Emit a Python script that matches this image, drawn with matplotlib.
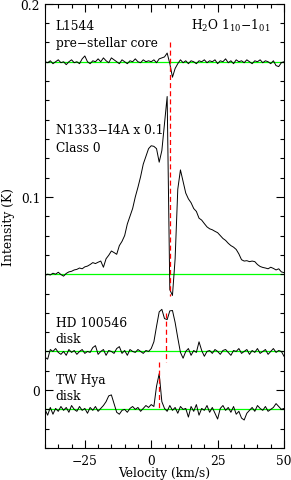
import numpy as np
import matplotlib
matplotlib.use('Agg')
import matplotlib.pyplot as plt
from matplotlib.ticker import MultipleLocator

plt.rcParams['font.family'] = 'DejaVu Serif'
plt.rcParams['mathtext.fontset'] = 'dejavuserif'
plt.rcParams['font.size'] = 8.8

# velocity channels (km/s)
velocity = np.arange(-40, 51, 1)

l1544 = [
    0.1700, 0.1695, 0.1705, 0.1690, 0.1700, 0.1710, 0.1695, 0.1700, 0.1685, 0.1700,
    0.1710, 0.1695, 0.1700, 0.1690, 0.1715, 0.1730, 0.1700, 0.1690, 0.1705, 0.1700,
    0.1715, 0.1700, 0.1720, 0.1705, 0.1695, 0.1720, 0.1710, 0.1700, 0.1690, 0.1710,
    0.1700, 0.1690, 0.1705, 0.1700, 0.1715, 0.1700, 0.1695, 0.1710, 0.1700, 0.1705,
    0.1700, 0.1710, 0.1695, 0.1715, 0.1720, 0.1725, 0.1745, 0.1690, 0.1620, 0.1665,
    0.1690, 0.1710, 0.1695, 0.1705, 0.1690, 0.1705, 0.1700, 0.1690, 0.1705, 0.1700,
    0.1710, 0.1695, 0.1705, 0.1700, 0.1710, 0.1690, 0.1705, 0.1700, 0.1715, 0.1695,
    0.1705, 0.1690, 0.1710, 0.1700, 0.1705, 0.1695, 0.1710, 0.1700, 0.1690, 0.1705,
    0.1700, 0.1710, 0.1695, 0.1705, 0.1700, 0.1690, 0.1705, 0.1680, 0.1675, 0.1695,
    0.1700,
]

n1333 = [
    0.0594, 0.0600, 0.0596, 0.0605, 0.0600, 0.0610, 0.0598, 0.0590, 0.0604, 0.0612,
    0.0615, 0.0622, 0.0625, 0.0632, 0.0628, 0.0638, 0.0642, 0.0650, 0.0660, 0.0655,
    0.0662, 0.0668, 0.0636, 0.0680, 0.0698, 0.0720, 0.0712, 0.0703, 0.0748, 0.0770,
    0.0800, 0.0860, 0.0900, 0.0940, 0.1000, 0.1050, 0.1105, 0.1170, 0.1210, 0.1250,
    0.1265, 0.1262, 0.1250, 0.1180, 0.1240, 0.1380, 0.1520, 0.0520, 0.0490, 0.0680,
    0.1040, 0.1140, 0.1080, 0.1020, 0.0990, 0.0970, 0.0940, 0.0925, 0.0890, 0.0880,
    0.0862, 0.0845, 0.0835, 0.0830, 0.0822, 0.0815, 0.0800, 0.0785, 0.0775, 0.0760,
    0.0748, 0.0740, 0.0728, 0.0705, 0.0675, 0.0668, 0.0670, 0.0665, 0.0668, 0.0665,
    0.0650, 0.0640, 0.0635, 0.0632, 0.0628, 0.0636, 0.0630, 0.0622, 0.0628, 0.0612,
    0.0608,
]

hd100546 = [
    0.0170, 0.0160, 0.0210, 0.0200, 0.0215, 0.0195, 0.0185, 0.0200, 0.0180, 0.0210,
    0.0195, 0.0205, 0.0185, 0.0200, 0.0210, 0.0190, 0.0200, 0.0195, 0.0220, 0.0230,
    0.0185, 0.0200, 0.0210, 0.0180, 0.0205, 0.0200, 0.0190, 0.0215, 0.0225, 0.0190,
    0.0205, 0.0180, 0.0210, 0.0200, 0.0195, 0.0210, 0.0200, 0.0190, 0.0205, 0.0200,
    0.0215, 0.0250, 0.0330, 0.0405, 0.0418, 0.0370, 0.0365, 0.0410, 0.0412, 0.0350,
    0.0270, 0.0195, 0.0165, 0.0200, 0.0215, 0.0180, 0.0205, 0.0195, 0.0250, 0.0205,
    0.0175, 0.0200, 0.0205, 0.0190, 0.0210, 0.0200, 0.0185, 0.0205, 0.0210, 0.0195,
    0.0180, 0.0205, 0.0200, 0.0215, 0.0190, 0.0200, 0.0210, 0.0185, 0.0205, 0.0195,
    0.0215, 0.0190, 0.0200, 0.0210, 0.0185, 0.0200, 0.0215, 0.0195, 0.0205, 0.0200,
    0.0175,
]

twhya = [
    -0.0100, -0.0130, -0.0090, -0.0125, -0.0095, -0.0110, -0.0085, -0.0105, -0.0090, -0.0115,
    -0.0080, -0.0100, -0.0110, -0.0085, -0.0105, -0.0095, -0.0120, -0.0090, -0.0105, -0.0085,
    -0.0110, -0.0095, -0.0080, -0.0060, -0.0030, -0.0025, -0.0070, -0.0115, -0.0125, -0.0105,
    -0.0100, -0.0115, -0.0095, -0.0085, -0.0100, -0.0090, -0.0110, -0.0095, -0.0080, -0.0090,
    -0.0075, -0.0085, 0.0020, 0.0085, -0.0060, -0.0095, -0.0110, -0.0080, -0.0105, -0.0090,
    -0.0120, -0.0085, -0.0100, -0.0095, -0.0140, -0.0085, -0.0110, -0.0075, -0.0130, -0.0095,
    -0.0105, -0.0080, -0.0115, -0.0090, -0.0120, -0.0150, -0.0095, -0.0080, -0.0105, -0.0090,
    -0.0115, -0.0085, -0.0125, -0.0110, -0.0145, -0.0155, -0.0120, -0.0105, -0.0090, -0.0110,
    -0.0080, -0.0095, -0.0105, -0.0085, -0.0110, -0.0100, -0.0090, -0.0070, -0.0085, -0.0100,
    -0.0095,
]

spectra = [l1544, n1333, hd100546, twhya]
baselines = [0.170, 0.060, 0.020, -0.010]

# red dashed source velocity markers: (velocity, y from, y to)
vlsr_marks = [(7.0, 0.180, 0.0487), (5.6, 0.040, 0.0143), (3.0, 0.0147, -0.0105)]

labels = [
    (-36, 0.189, 'L1544'),
    (-36, 0.180, 'pre\u2212stellar core'),
    (-36, 0.135, 'N1333\u2212I4A x 0.1'),
    (-36, 0.1255, 'Class 0'),
    (-36, 0.0352, 'HD 100546'),
    (-36, 0.0266, 'disk'),
    (-36, 0.0055, 'TW Hya'),
    (-36, -0.003, 'disk'),
]

fig = plt.figure(figsize=(2.91, 4.81), dpi=100)
ax = fig.add_axes([0.1546, 0.0665, 0.8214, 0.9235])

for base in baselines:
    ax.axhline(base, color='#00ff00', lw=0.9, zorder=1)

for spec in spectra:
    ax.plot(velocity, spec, color='black', lw=0.7, zorder=2)

for v, y0, y1 in vlsr_marks:
    ax.plot([v, v], [y0, y1], color='red', lw=0.9, ls=(0, (4, 2.5)), zorder=3)

for x, y, s in labels:
    ax.text(x, y, s, ha='left', va='center')
ax.text(45, 0.189, 'H$_2$O 1$_{10}$$-$1$_{01}$', ha='right', va='center')

ax.set_xlim(-40, 50)
ax.set_ylim(-0.03, 0.2)
ax.set_xticks([-25, 0, 25, 50])
ax.set_xticklabels(['\u221225', '0', '25', '50'])
ax.set_yticks([0, 0.1, 0.2])
ax.set_yticklabels(['0', '0.1', '0.2'])
ax.xaxis.set_minor_locator(MultipleLocator(5))
ax.yaxis.set_minor_locator(MultipleLocator(0.01))
ax.tick_params(which='both', direction='in', top=True, right=True, width=0.8)
ax.tick_params(which='major', length=6)
ax.tick_params(which='minor', length=3)
ax.tick_params(axis='x', pad=4)
for sp in ax.spines.values():
    sp.set_linewidth(0.8)

ax.set_xlabel('Velocity (km/s)')
ax.xaxis.set_label_coords(0.5, -0.040)
ax.set_ylabel('Intensity (K)', labelpad=4)

fig.savefig('out.png', dpi=100)
